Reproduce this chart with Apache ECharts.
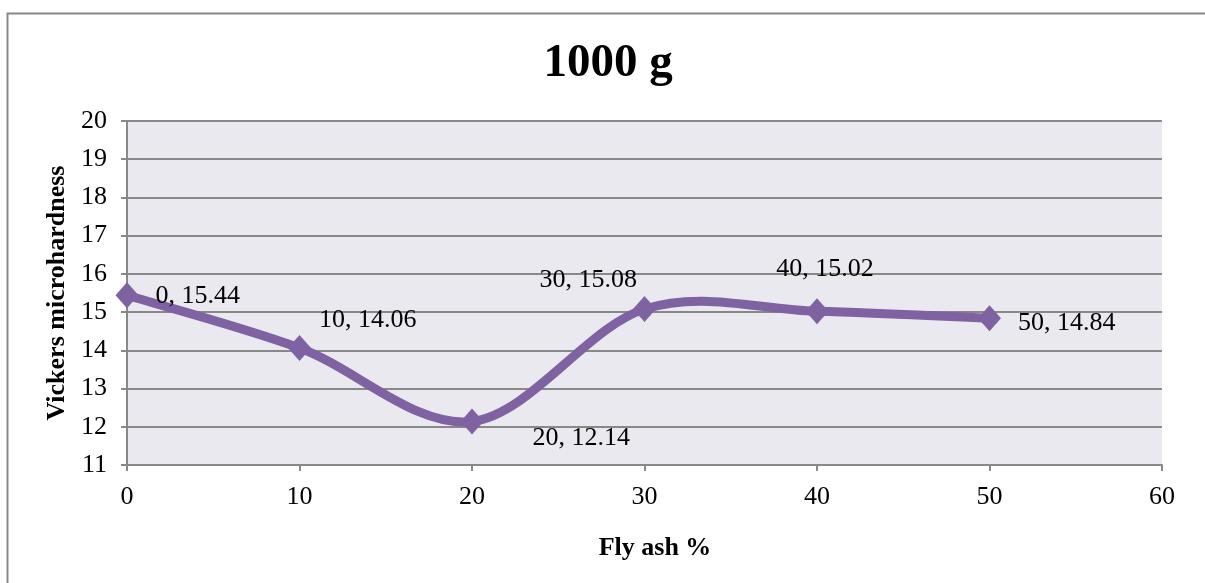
<!DOCTYPE html>
<html>
<head>
<meta charset="utf-8">
<script src="https://cdn.jsdelivr.net/npm/echarts@6/dist/echarts.min.js"></script>
<style>
  html, body { margin: 0; padding: 0; background: #fff; }
  #chart { width: 1205px; height: 583px; }
</style>
</head>
<body>
<div id="chart"></div>
<script>
const flyAsh = [0, 10, 20, 30, 40, 50]
const hardness = [15.44, 14.06, 12.14, 15.08, 15.02, 14.84]
// where each data label sits relative to its point
const labelPos = [
  { position: 'right', offset: [12, 1] },
  { position: 'right', offset: [3, -28] },
  { position: 'right', offset: [44, 17] },
  { position: 'left', offset: [9, -29] },
  { position: 'top', offset: [8, -11] },
  { position: 'right', offset: [12, 5] }
]

const serif = '"Liberation Serif", "Times New Roman", serif'
const purple = '#7E62A1'
const chart = echarts.init(document.getElementById('chart'))

// excel-like smoothed line: bezier segments with tangents from neighbours / 6
const renderCurve = (params, api) => {
  const pts = flyAsh.map((x, i) => api.coord([x, hardness[i]]))
  const n = pts.length
  const children = []
  for (let i = 0; i < n - 1; i++) {
    const p0 = pts[Math.max(i - 1, 0)]
    const p1 = pts[i]
    const p2 = pts[i + 1]
    const p3 = pts[Math.min(i + 2, n - 1)]
    children.push({
      type: 'bezierCurve',
      shape: {
        x1: p1[0], y1: p1[1],
        cpx1: p1[0] + (p2[0] - p0[0]) / 6, cpy1: p1[1] + (p2[1] - p0[1]) / 6,
        cpx2: p2[0] - (p3[0] - p1[0]) / 6, cpy2: p2[1] - (p3[1] - p1[1]) / 6,
        x2: p2[0], y2: p2[1]
      },
      style: { stroke: purple, lineWidth: 9, fill: null, lineCap: 'round', lineJoin: 'round' }
    })
  }
  return { type: 'group', children }
}

chart.setOption({
  animation: false,
  backgroundColor: '#fff',
  textStyle: { fontFamily: serif },
  title: {
    text: '1000 g',
    left: 603,
    top: 35,
    textAlign: 'center',
    textStyle: { fontFamily: serif, fontSize: 47, fontWeight: 'bold', color: '#000' }
  },
  graphic: [
    {
      type: 'polyline',
      shape: { points: [[7.5, 583], [7.5, 13.5], [1205, 13.5]] },
      style: { stroke: '#888', lineWidth: 2, fill: null },
      silent: true
    }
  ],
  grid: { left: 127, right: 43, top: 121, bottom: 118, show: true, backgroundColor: '#EBE9F0', borderWidth: 0 },
  xAxis: {
    type: 'value',
    min: 0,
    max: 60,
    interval: 10,
    name: 'Fly ash %',
    nameLocation: 'middle',
    nameGap: 70,
    nameTextStyle: { fontFamily: serif, fontSize: 26, fontWeight: 'bold', color: '#000', padding: [0, 0, 0, 21] },
    axisLine: { lineStyle: { color: '#888', width: 2 } },
    axisTick: { show: true, length: 6, lineStyle: { color: '#888', width: 2 } },
    axisLabel: { fontFamily: serif, fontSize: 26, color: '#000', margin: 19 },
    splitLine: { show: false }
  },
  yAxis: {
    type: 'value',
    min: 11,
    max: 20,
    interval: 1,
    name: 'Vickers microhardness',
    nameLocation: 'middle',
    nameGap: 57,
    nameTextStyle: { fontFamily: serif, fontSize: 26, fontWeight: 'bold', color: '#000' },
    axisLine: { show: true, lineStyle: { color: '#888', width: 2 } },
    axisTick: { show: true, length: 6, lineStyle: { color: '#888', width: 2 } },
    axisLabel: { fontFamily: serif, fontSize: 26, color: '#000', margin: 20 },
    splitLine: { show: true, lineStyle: { color: '#888', width: 2 } }
  },
  series: [
    {
      type: 'custom',
      renderItem: renderCurve,
      data: [[flyAsh[0], hardness[0]]],
      silent: true,
      z: 2
    },
    {
      type: 'line',
      data: flyAsh.map((x, i) => ({
        value: [x, hardness[i]],
        label: labelPos[i]
      })),
      lineStyle: { width: 0, opacity: 0 },
      itemStyle: { color: purple },
      symbol: 'diamond',
      symbolSize: [23, 26],
      z: 3,
      label: {
        show: true,
        fontFamily: serif,
        fontSize: 26,
        color: '#000',
        formatter: p => p.value[0] + ', ' + p.value[1].toFixed(2)
      }
    }
  ]
})
</script>
</body>
</html>
